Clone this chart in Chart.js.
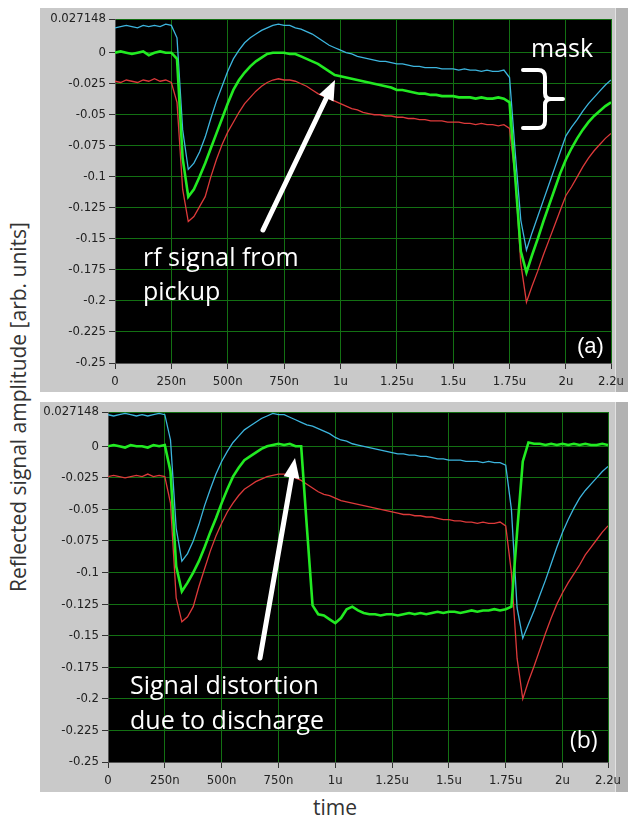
<!DOCTYPE html>
<html lang="en">
<head>
<meta charset="UTF-8">
<title>Reflected signal amplitude</title>
<script src="https://cdn.jsdelivr.net/npm/chart.js"></script>
<style>
    body {
        margin: 0;
        background: #fff;
        width: 628px;
        height: 820px;
        position: relative;
        overflow: hidden;
        font-family: "Open Sans", sans-serif;
    }
    .frame {
        position: absolute;
        left: 40px;
        width: 588px;
        background: #c9c9c9;
    }
    .frame .strip {
        position: absolute;
        right: 0;
        top: 0;
        bottom: 0;
        width: 12px;
        background: #b2b2b2;
        border-left: 1px solid #e2e2e2;
    }
    #frameA { top: 8px; height: 384px; }
    #frameB { top: 402px; height: 390px; }
    canvas { position: absolute; left: 0; top: 0; }
    .ytitle {
        position: absolute;
        left: 18px;
        top: 407px;
        transform: translate(-50%, -50%) rotate(-90deg);
        white-space: nowrap;
        font-size: 21px;
        color: #333;
    }
    .xtitle {
        position: absolute;
        left: 335px;
        top: 793px;
        transform: translateX(-50%);
        font-size: 21px;
        color: #333;
    }
</style>
</head>
<body>

<div class="frame" id="frameA">
    <div class="strip"></div>
    <canvas id="chartA" width="588" height="384"></canvas>
</div>
<div class="frame" id="frameB">
    <div class="strip"></div>
    <canvas id="chartB" width="588" height="390"></canvas>
</div>
<div class="ytitle">Reflected signal amplitude [arb. units]</div>
<div class="xtitle">time</div>

<script>
// sample times in ns
const timeNs = [
    0, 25, 50, 75, 100, 125, 150, 175, 200, 225,
    250, 275, 300, 325, 350, 375, 400, 425, 450, 475,
    500, 525, 550, 575, 600, 625, 650, 675, 700, 725,
    750, 775, 800, 825, 850, 875, 900, 925, 950, 975,
    1000, 1025, 1050, 1075, 1100, 1125, 1150, 1175, 1200, 1225,
    1250, 1275, 1300, 1325, 1350, 1375, 1400, 1425, 1450, 1475,
    1500, 1525, 1550, 1575, 1600, 1625, 1650, 1675, 1700, 1725,
    1750, 1775, 1800, 1825, 1850, 1875, 1900, 1925, 1950, 1975,
    2000, 2025, 2050, 2075, 2100, 2125, 2150, 2175, 2200
];

const xTickValues = [0, 250, 500, 750, 1000, 1250, 1500, 1750, 2000, 2200];
const xTickLabels = ['0', '250n', '500n', '750n', '1u', '1.25u', '1.5u', '1.75u', '2u', '2.2u'];
const yTickValues = [0.027148, 0, -0.025, -0.05, -0.075, -0.1, -0.125, -0.15, -0.175, -0.2, -0.225, -0.25];
const yTickLabels = ['0.027148', '0', '-0.025', '-0.05', '-0.075', '-0.1', '-0.125', '-0.15', '-0.175', '-0.2', '-0.225', '-0.25'];

// (a) normal operation
const topCyan = [
    0.020, 0.021, 0.022, 0.021, 0.020, 0.022, 0.021, 0.022, 0.021, 0.023,
    0.022, 0.012, -0.062, -0.094, -0.089, -0.080, -0.068, -0.053, -0.039, -0.027,
    -0.015, -0.005, 0.002, 0.008, 0.012, 0.015, 0.018, 0.020, 0.022, 0.023,
    0.022, 0.022, 0.020, 0.019, 0.017, 0.015, 0.012, 0.009, 0.006, 0.004,
    0.002, 0.000, -0.001, -0.003, -0.004, -0.005, -0.006, -0.007, -0.007, -0.008,
    -0.009, -0.009, -0.010, -0.011, -0.011, -0.012, -0.012, -0.012, -0.013, -0.013,
    -0.013, -0.014, -0.013, -0.014, -0.014, -0.015, -0.014, -0.015, -0.015, -0.014,
    -0.020, -0.080, -0.135, -0.159, -0.145, -0.132, -0.119, -0.106, -0.093, -0.080,
    -0.067, -0.060, -0.054, -0.047, -0.041, -0.036, -0.031, -0.026, -0.022
];
const topGreen = [
    0.000, 0.001, 0.000, -0.001, 0.000, 0.001, -0.002, 0.000, 0.001, 0.000,
    0.000, -0.005, -0.085, -0.116, -0.110, -0.100, -0.089, -0.077, -0.065, -0.053,
    -0.041, -0.030, -0.022, -0.016, -0.011, -0.007, -0.004, -0.001, 0.000, 0.000,
    0.000, -0.001, -0.001, -0.003, -0.005, -0.007, -0.009, -0.012, -0.015, -0.018,
    -0.019, -0.020, -0.021, -0.022, -0.023, -0.024, -0.025, -0.026, -0.027, -0.028,
    -0.030, -0.030, -0.031, -0.032, -0.033, -0.033, -0.034, -0.034, -0.035, -0.035,
    -0.035, -0.036, -0.036, -0.036, -0.037, -0.036, -0.037, -0.037, -0.036, -0.037,
    -0.040, -0.100, -0.160, -0.177, -0.163, -0.150, -0.136, -0.123, -0.110, -0.097,
    -0.086, -0.077, -0.069, -0.062, -0.056, -0.051, -0.047, -0.043, -0.040
];
const topRed = [
    -0.023, -0.024, -0.022, -0.023, -0.024, -0.022, -0.023, -0.021, -0.023, -0.022,
    -0.024, -0.040, -0.110, -0.136, -0.132, -0.124, -0.116, -0.100, -0.086, -0.074,
    -0.064, -0.056, -0.048, -0.041, -0.036, -0.031, -0.027, -0.024, -0.022, -0.021,
    -0.022, -0.022, -0.023, -0.025, -0.027, -0.030, -0.033, -0.035, -0.037, -0.039,
    -0.041, -0.043, -0.045, -0.046, -0.048, -0.049, -0.050, -0.050, -0.051, -0.051,
    -0.052, -0.052, -0.053, -0.053, -0.054, -0.054, -0.055, -0.055, -0.055, -0.056,
    -0.056, -0.056, -0.057, -0.057, -0.058, -0.057, -0.058, -0.058, -0.059, -0.058,
    -0.061, -0.100, -0.170, -0.201, -0.188, -0.176, -0.163, -0.151, -0.139, -0.127,
    -0.115, -0.108, -0.100, -0.092, -0.085, -0.079, -0.074, -0.069, -0.065
];

// (b) with discharge
const botCyan = [
    0.025, 0.024, 0.025, 0.026, 0.025, 0.024, 0.025, 0.024, 0.025, 0.026,
    0.025, 0.005, -0.065, -0.091, -0.085, -0.075, -0.062, -0.047, -0.034, -0.022,
    -0.012, -0.004, 0.003, 0.008, 0.013, 0.016, 0.019, 0.022, 0.024, 0.026,
    0.025, 0.025, 0.023, 0.021, 0.019, 0.017, 0.016, 0.014, 0.012, 0.010,
    0.007, 0.005, 0.004, 0.002, 0.001, 0.000, -0.001, -0.002, -0.003, -0.004,
    -0.005, -0.006, -0.006, -0.007, -0.007, -0.008, -0.008, -0.009, -0.010, -0.010,
    -0.011, -0.011, -0.011, -0.012, -0.012, -0.012, -0.013, -0.012, -0.013, -0.013,
    -0.015, -0.050, -0.128, -0.152, -0.141, -0.130, -0.118, -0.106, -0.093, -0.080,
    -0.068, -0.058, -0.049, -0.041, -0.035, -0.030, -0.025, -0.020, -0.016
];
const botGreen = [
    0.000, 0.001, 0.000, -0.001, 0.001, 0.000, 0.000, -0.001, 0.001, 0.000,
    0.001, -0.020, -0.095, -0.115, -0.108, -0.100, -0.091, -0.080, -0.068, -0.057,
    -0.045, -0.034, -0.024, -0.017, -0.011, -0.008, -0.005, -0.002, 0.000, 0.001,
    0.002, 0.001, 0.002, 0.000, 0.000, -0.064, -0.126, -0.133, -0.134, -0.137,
    -0.140, -0.136, -0.129, -0.127, -0.130, -0.132, -0.133, -0.133, -0.134, -0.133,
    -0.133, -0.134, -0.133, -0.132, -0.133, -0.132, -0.133, -0.132, -0.131, -0.132,
    -0.131, -0.131, -0.132, -0.131, -0.130, -0.131, -0.130, -0.130, -0.129, -0.130,
    -0.129, -0.127, -0.068, -0.012, 0.003, 0.002, 0.002, 0.001, 0.002, 0.001,
    0.002, 0.001, 0.002, 0.001, 0.002, 0.001, 0.001, 0.002, 0.001
];
const botRed = [
    -0.024, -0.023, -0.024, -0.025, -0.024, -0.023, -0.024, -0.022, -0.024, -0.023,
    -0.024, -0.045, -0.120, -0.139, -0.135, -0.127, -0.111, -0.097, -0.083, -0.071,
    -0.061, -0.052, -0.045, -0.039, -0.034, -0.031, -0.028, -0.026, -0.024, -0.023,
    -0.022, -0.022, -0.023, -0.025, -0.027, -0.030, -0.033, -0.036, -0.038, -0.039,
    -0.041, -0.043, -0.044, -0.045, -0.046, -0.047, -0.048, -0.049, -0.050, -0.051,
    -0.052, -0.053, -0.054, -0.054, -0.055, -0.055, -0.056, -0.056, -0.057, -0.058,
    -0.058, -0.059, -0.059, -0.060, -0.060, -0.061, -0.060, -0.061, -0.061, -0.060,
    -0.063, -0.100, -0.168, -0.200, -0.186, -0.174, -0.161, -0.148, -0.136, -0.125,
    -0.116, -0.108, -0.101, -0.094, -0.086, -0.080, -0.074, -0.068, -0.063
];

const tickFont = { family: '"Liberation Sans Narrow", "DejaVu Sans Condensed", sans-serif', size: 13 };

function pairs(values) {
    return values.map((v, i) => ({ x: timeNs[i], y: v }));
}

// black plot area like the scope display
const plotBg = {
    id: 'plotBg',
    beforeDraw(chart) {
        const { ctx, chartArea: a } = chart;
        ctx.save();
        ctx.fillStyle = '#000';
        ctx.fillRect(a.left, a.top, a.width, a.height);
        ctx.restore();
    }
};

function arrow(ctx, x1, y1, x2, y2) {
    const ang = Math.atan2(y2 - y1, x2 - x1);
    const head = 20, half = 8;
    const bx = x2 - head * Math.cos(ang), by = y2 - head * Math.sin(ang);
    ctx.beginPath();
    ctx.moveTo(x1, y1);
    ctx.lineTo(bx, by);
    ctx.stroke();
    ctx.beginPath();
    ctx.moveTo(x2, y2);
    ctx.lineTo(bx + half * Math.sin(ang), by - half * Math.cos(ang));
    ctx.lineTo(bx - half * Math.sin(ang), by + half * Math.cos(ang));
    ctx.closePath();
    ctx.fill();
}

// white labels, arrows and the mask brace
const notes = {
    id: 'notes',
    afterDatasetsDraw(chart, args, opts) {
        const ctx = chart.ctx;
        ctx.save();
        ctx.fillStyle = '#fff';
        ctx.strokeStyle = '#fff';
        ctx.lineWidth = 5;
        ctx.lineCap = 'round';
        ctx.lineJoin = 'round';
        (opts.arrows || []).forEach(a => arrow(ctx, a[0], a[1], a[2], a[3]));
        ctx.font = '25px "Open Sans", sans-serif';
        ctx.textBaseline = 'alphabetic';
        (opts.texts || []).forEach(t => ctx.fillText(t[0], t[1], t[2]));
        if (opts.tag) {
            ctx.font = opts.tag[3];
            ctx.fillText(opts.tag[0], opts.tag[1], opts.tag[2]);
        }
        if (opts.brace) {
            const [x, y] = opts.brace;
            ctx.lineWidth = 4;
            ctx.beginPath();
            ctx.moveTo(x, y);
            ctx.lineTo(x + 15, y);
            ctx.quadraticCurveTo(x + 22, y, x + 22, y + 7);
            ctx.lineTo(x + 22, y + 23);
            ctx.quadraticCurveTo(x + 22, y + 29, x + 28, y + 29);
            ctx.lineTo(x + 40, y + 29);
            ctx.moveTo(x + 28, y + 29);
            ctx.quadraticCurveTo(x + 22, y + 29, x + 22, y + 35);
            ctx.lineTo(x + 22, y + 51);
            ctx.quadraticCurveTo(x + 22, y + 58, x + 15, y + 58);
            ctx.lineTo(x, y + 58);
            ctx.stroke();
        }
        ctx.restore();
    }
};

function makePanel(id, cyan, green, red, box, noteOpts) {
    const ctx = document.getElementById(id).getContext('2d');
    return new Chart(ctx, {
        type: 'line',
        data: {
            datasets: [
                { label: 'green', data: pairs(green), borderColor: '#22ea22', borderWidth: 2.6 },
                { label: 'cyan', data: pairs(cyan), borderColor: '#3db5de', borderWidth: 1.3 },
                { label: 'red', data: pairs(red), borderColor: '#dd3a3a', borderWidth: 1.3 }
            ]
        },
        options: {
            responsive: false,
            animation: false,
            elements: { point: { radius: 0 }, line: { tension: 0 } },
            layout: { autoPadding: false, padding: { left: 0, top: box.top, right: box.right, bottom: 0 } },
            scales: {
                x: {
                    type: 'linear',
                    min: 0,
                    max: 2200,
                    afterBuildTicks: s => { s.ticks = xTickValues.map(v => ({ value: v })); },
                    afterFit: s => {
                        s.height = box.xh;
                        s.paddingLeft = 0;
                        s.paddingRight = 0;
                    },
                    ticks: {
                        callback: (v, i) => xTickLabels[i],
                        font: tickFont,
                        color: '#222',
                        padding: 5,
                        maxRotation: 0,
                        autoSkip: false
                    },
                    grid: { color: '#137013', tickColor: '#333', tickLength: 6 },
                    border: { color: '#555' }
                },
                y: {
                    min: -0.25,
                    max: 0.027148,
                    afterBuildTicks: s => { s.ticks = yTickValues.map(v => ({ value: v })); },
                    afterFit: s => {
                        s.width = box.yw;
                        s.paddingTop = 0;
                        s.paddingBottom = 0;
                    },
                    ticks: {
                        callback: (v, i) => yTickLabels[i],
                        font: tickFont,
                        color: '#222',
                        padding: 3,
                        autoSkip: false
                    },
                    grid: { color: '#137013', tickColor: '#333', tickLength: 6 },
                    border: { color: '#555' }
                }
            },
            plugins: {
                legend: { display: false },
                tooltip: { enabled: false },
                notes: noteOpts
            }
        },
        plugins: [plotBg, notes]
    });
}

makePanel('chartA', topCyan, topGreen, topRed,
    { top: 11, right: 17, xh: 29, yw: 75 },
    {
        arrows: [[223, 222, 295, 72]],
        texts: [['rf signal from', 103, 258], ['pickup', 103, 292], ['mask', 491, 49]],
        tag: ['(a)', 537, 345, '22px "Liberation Sans", Arial, sans-serif'],
        brace: [483, 62]
    });

makePanel('chartB', botCyan, botGreen, botRed,
    { top: 10, right: 20, xh: 30, yw: 68 },
    {
        arrows: [[220, 256, 255, 56]],
        texts: [['Signal distortion', 90, 292], ['due to discharge', 90, 327]],
        tag: ['(b)', 530, 346, '23px "Open Sans", sans-serif']
    });
</script>

</body>
</html>
